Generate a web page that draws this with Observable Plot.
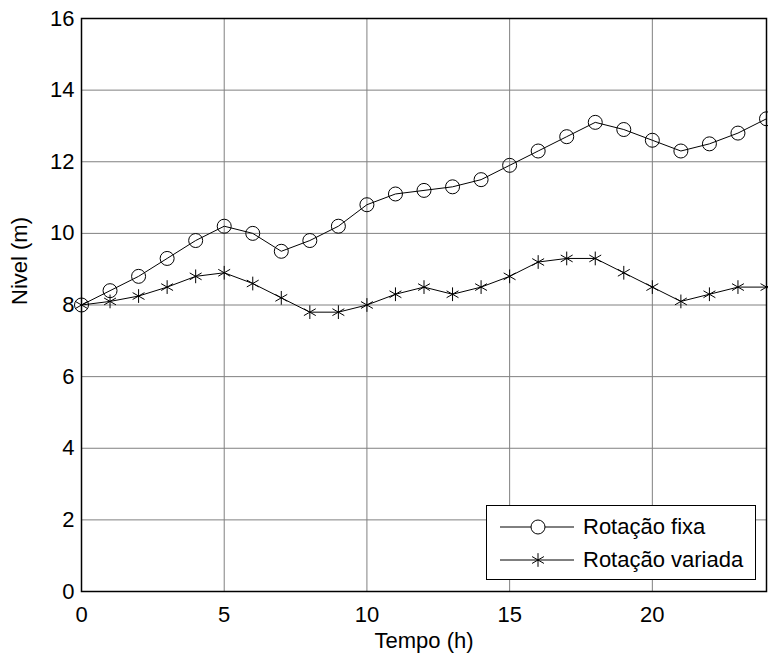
<!DOCTYPE html>
<html>
<head>
<meta charset="utf-8">
<script src="https://cdn.jsdelivr.net/npm/d3@7"></script>
<script src="https://cdn.jsdelivr.net/npm/@observablehq/plot@0.6"></script>
<style>
  html, body { margin: 0; padding: 0; background: #fff; }
  body { font-family: "Liberation Sans", Arial, Helvetica, sans-serif; }
  #wrap { position: relative; width: 768px; height: 655px; }
  #legend {
    position: absolute; left: 486px; top: 505px; width: 270px; height: 75px;
    box-sizing: border-box; border: 1.5px solid #000; background: #fff;
    font-size: 22px; color: #000;
  }
  #legend .row { position: absolute; left: 0; height: 30px; display: flex; align-items: center; }
  #legend svg { display: block; }
  #legend span { margin-left: 8px; white-space: nowrap; }
</style>
</head>
<body>
<div id="wrap"></div>
<script>
// ---- data ----
const hours = [0,1,2,3,4,5,6,7,8,9,10,11,12,13,14,15,16,17,18,19,20,21,22,23,24];
const rotacaoFixa = [8.0,8.4,8.8,9.3,9.8,10.2,10.0,9.5,9.8,10.2,10.8,11.1,11.2,11.3,11.5,11.9,12.3,12.7,13.1,12.9,12.6,12.3,12.5,12.8,13.2];
const rotacaoVariada = [8.0,8.1,8.25,8.5,8.8,8.9,8.6,8.2,7.8,7.8,8.0,8.3,8.5,8.3,8.5,8.8,9.2,9.3,9.3,8.9,8.5,8.1,8.3,8.5,8.5];
const seriesNames = ["Rotação fixa", "Rotação variada"];
const xTicks = [0,5,10,15,20];
const yTicks = [0,2,4,6,8,10,12,14,16];
const xLabel = "Tempo (h)";
const yLabel = "Nivel (m)";

const fixaRows = hours.map((h, i) => ({h, v: rotacaoFixa[i]}));
const variadaRows = hours.map((h, i) => ({h, v: rotacaoVariada[i]}));

const chart = Plot.plot({
  width: 768,
  height: 655,
  marginLeft: 81,
  marginRight: 2,
  marginTop: 18,
  marginBottom: 64,
  style: { fontFamily: '"Liberation Sans", Arial, sans-serif', fontSize: "22px", background: "#fff", color: "#000" },
  x: { domain: [0, 24] },
  y: { domain: [0, 16] },
  marks: [
    Plot.gridX(xTicks, { stroke: "#808080", strokeOpacity: 1, strokeWidth: 1 }),
    Plot.gridY(yTicks, { stroke: "#808080", strokeOpacity: 1, strokeWidth: 1 }),
    Plot.line(fixaRows, { x: "h", y: "v", stroke: "#000", strokeWidth: 1 }),
    Plot.dot(fixaRows, { x: "h", y: "v", r: 7, stroke: "#000", fill: "none", strokeWidth: 1 }),
    Plot.line(variadaRows, { x: "h", y: "v", stroke: "#000", strokeWidth: 1 }),
    Plot.dot(variadaRows, { x: "h", y: "v", r: 6.5, symbol: "asterisk", stroke: "#000", strokeWidth: 1 }),
    Plot.frame({ stroke: "#000", strokeWidth: 1.5 }),
    Plot.axisX(xTicks, { tickSize: 0, tickPadding: 15, fontSize: 22, label: null }),
    Plot.axisY(yTicks, { tickSize: 0, tickPadding: 7, fontSize: 22, label: null }),
    Plot.text([xLabel], { frameAnchor: "bottom", dy: 56, fontSize: 22, fill: "#000" }),
    Plot.text([yLabel], { frameAnchor: "left", dx: -62, rotate: -90, fontSize: 22, fill: "#000" })
  ]
});

const wrap = document.getElementById("wrap");
wrap.appendChild(chart);

// legend
const legend = document.createElement("div");
legend.id = "legend";
seriesNames.forEach((name, i) => {
  const row = document.createElement("div");
  row.className = "row";
  row.style.top = (i === 0 ? 6 : 39) + "px";
  const sample = d3.create("svg").attr("width", 88).attr("height", 30);
  sample.append("line").attr("x1", 13).attr("x2", 87).attr("y1", 15).attr("y2", 15).attr("stroke", "#000");
  sample.append("path")
    .attr("transform", "translate(51,15)")
    .attr("d", d3.symbol(i === 0 ? d3.symbolCircle : d3.symbolAsterisk, i === 0 ? Math.PI * 49 : Math.PI * 42)())
    .attr("fill", i === 0 ? "#fff" : "none").attr("stroke", "#000");
  row.appendChild(sample.node());
  const label = document.createElement("span");
  label.textContent = name;
  row.appendChild(label);
  legend.appendChild(row);
});
wrap.appendChild(legend);
</script>
</body>
</html>
